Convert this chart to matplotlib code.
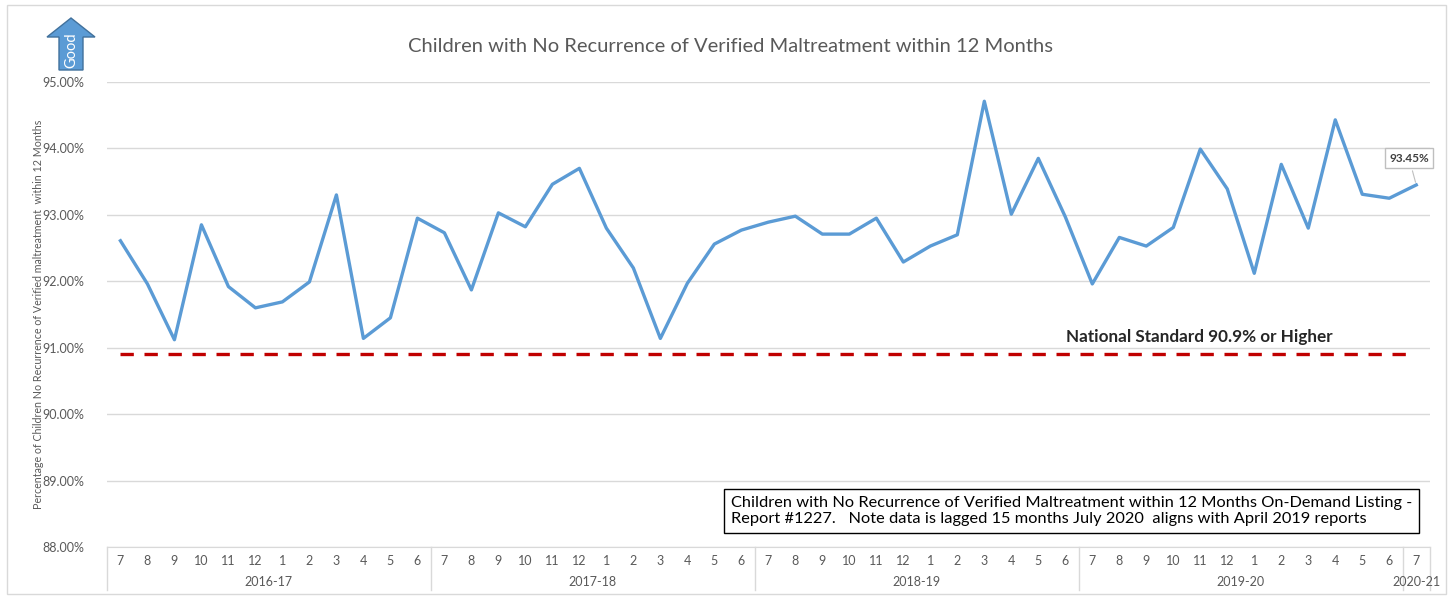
import matplotlib.pyplot as plt
from matplotlib.patches import Polygon, Rectangle
from matplotlib.transforms import blended_transform_factory

plt.rcParams['font.family'] = ['Lato', 'DejaVu Sans']

months = ['7', '8', '9', '10', '11', '12', '1', '2', '3', '4', '5', '6'] * 4 + ['7']
years = ['2016-17', '2017-18', '2018-19', '2019-20', '2020-21']
rate = [92.61, 91.96, 91.12, 92.85, 91.92, 91.60, 91.69, 91.99, 93.30, 91.14, 91.45, 92.95,
        92.73, 91.87, 93.03, 92.82, 93.46, 93.70, 92.80, 92.20, 91.14, 91.97, 92.56, 92.77,
        92.89, 92.98, 92.71, 92.71, 92.95, 92.29, 92.53, 92.70, 94.71, 93.01, 93.85, 92.97,
        91.96, 92.66, 92.53, 92.81, 93.99, 93.39, 92.12, 93.76, 92.80, 94.43, 93.31, 93.25, 93.45]
standard = 90.9

W, H = 1453.0, 598.0
fig = plt.figure(figsize=(14.53, 5.98), dpi=100)
fig.patches.append(Rectangle((0.005, 0.006), 0.99, 0.985, transform=fig.transFigure,
                             fill=False, edgecolor='#d9d9d9', lw=1))
ax = fig.add_axes([0.0736, 0.0853, 0.9104, 0.7776])

x = list(range(len(rate)))
ax.plot(x, rate, color='#5B9BD5', lw=2.4, zorder=3)
ax.plot([x[0], x[-1]], [standard, standard], color='#C00000', lw=2.4,
        dashes=(4, 3.2), zorder=2)

ax.set_xlim(-0.5, len(rate) - 0.5)
ax.set_ylim(88, 95)
ax.set_yticks([88, 89, 90, 91, 92, 93, 94, 95])
ax.set_yticklabels(['%.2f%%' % v for v in [88, 89, 90, 91, 92, 93, 94, 95]],
                   fontsize=9, color='#595959')
ax.tick_params(axis='y', length=0, pad=16)
ax.grid(axis='y', color='#d9d9d9', lw=1)
ax.set_axisbelow(True)
for s in ['top', 'right', 'left']:
    ax.spines[s].set_visible(False)
ax.spines['bottom'].set_color('#d9d9d9')
ax.set_xticks([])

trans = blended_transform_factory(ax.transData, ax.transAxes)
for i, m in enumerate(months):
    ax.text(i, -0.03, m, transform=trans, ha='center', va='center',
            fontsize=9, color='#595959', clip_on=False)
bounds = [-0.5, 11.5, 23.5, 35.5, 47.5, 48.5]
for j, yr in enumerate(years):
    ax.text((bounds[j] + bounds[j + 1]) / 2, -0.075, yr, transform=trans,
            ha='center', va='center', fontsize=9, color='#595959', clip_on=False)
for b in bounds:
    ax.plot([b, b], [0, -0.093], transform=trans, color='#d9d9d9', lw=1, clip_on=False)

ax.set_ylabel('Percentage of Children No Recurrence of Verified maltreatment  within 12 Months',
              fontsize=7.7, color='#595959', labelpad=-1)

fig.text(0.503, 0.923, 'Children with No Recurrence of Verified Maltreatment within 12 Months',
         ha='center', va='center', fontsize=14.5, color='#595959')

fig.text(1199 / W, 1 - 337 / H, 'National Standard 90.9% or Higher', ha='center',
         va='center', fontsize=12.3, fontweight='bold', color='#262626')

fig.text(731 / W, 1 - 511 / H,
         'Children with No Recurrence of Verified Maltreatment within 12 Months On-Demand Listing -\n'
         'Report #1227.   Note data is lagged 15 months July 2020  aligns with April 2019 reports',
         ha='left', va='center', fontsize=11.8, color='#000000', linespacing=1.2,
         bbox=dict(boxstyle='square,pad=0.4', facecolor='white', edgecolor='#000000', lw=1))

# data label for last point
ax.annotate('%.2f%%' % rate[-1], xy=(x[-1], rate[-1]), xytext=(1409, H - 158),
            textcoords='figure pixels', ha='center', va='center', fontsize=8.5,
            fontweight='bold', color='#404040',
            bbox=dict(boxstyle='square,pad=0.35', facecolor='white', edgecolor='#bfbfbf', lw=1),
            arrowprops=dict(arrowstyle='-', color='#bfbfbf', lw=0.8))

# "Good" arrow
pts = [(47, 37), (71, 18), (95, 37), (83, 37), (83, 70), (59, 70), (59, 37)]
fig.patches.append(Polygon([(px / W, 1 - py / H) for px, py in pts], closed=True,
                           transform=fig.transFigure, facecolor='#5B9BD5',
                           edgecolor='#41719C', lw=1))
fig.text(71 / W, 1 - 50 / H, 'Good', rotation=90, ha='center', va='center',
         fontsize=10.5, color='white')

fig.savefig('out.png', dpi=100)
